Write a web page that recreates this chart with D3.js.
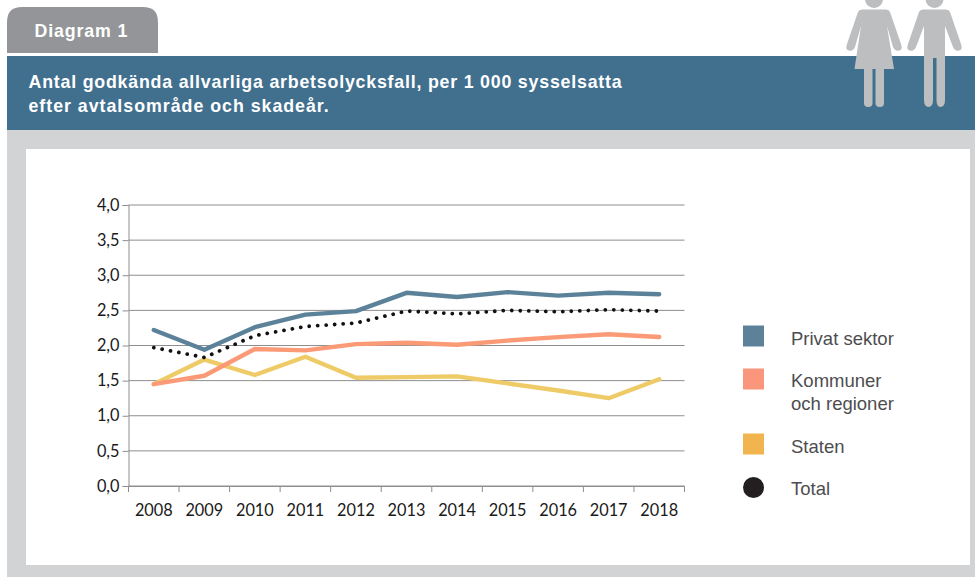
<!DOCTYPE html>
<html><head><meta charset="utf-8">
<script src="https://cdn.jsdelivr.net/npm/d3@7"></script>
<style>html,body{margin:0;padding:0;background:#fff}svg{display:block}</style></head>
<body><svg id="c" width="975" height="577"></svg>
<script>
const years = ["2008","2009","2010","2011","2012","2013","2014","2015","2016","2017","2018"];
const privat = [2.22,1.94,2.26,2.44,2.49,2.75,2.69,2.76,2.71,2.75,2.73];
const kommuner = [1.45,1.57,1.95,1.93,2.02,2.04,2.01,2.07,2.12,2.16,2.12];
const staten = [1.45,1.80,1.58,1.84,1.54,1.55,1.56,1.46,1.36,1.25,1.52];
const total = [1.97,1.83,2.14,2.27,2.32,2.49,2.45,2.50,2.48,2.51,2.49];
const yTicks = [0,0.5,1,1.5,2,2.5,3,3.5,4];

const svg = d3.select("#c");
const sans = "'Liberation Sans',Arial,sans-serif";

// Panel
svg.append("rect").attr("x",7).attr("y",130).attr("width",968).attr("height",447).attr("fill","#d1d3d4");
svg.append("rect").attr("x",26).attr("y",149).attr("width",944).attr("height",416).attr("fill","#fff");
svg.append("rect").attr("x",7).attr("y",56).attr("width",968).attr("height",74).attr("fill","#41708f");
svg.append("path").attr("d","M7,53V22Q7,7 22,7H143Q158,7 158,22V53Z").attr("fill","#939598");
svg.append("text").attr("x",34.5).attr("y",36.5).attr("fill","#fff").attr("font-family",sans).attr("font-weight",700).attr("font-size",17.8).attr("letter-spacing",0.85).text("Diagram 1");
const title = svg.append("text").attr("fill","#fff").attr("font-family",sans).attr("font-weight",700).attr("font-size",17.8);
title.append("tspan").attr("x",28.5).attr("y",87.5).attr("letter-spacing",0.79).text("Antal godkända allvarliga arbetsolycksfall, per 1 000 sysselsatta");
title.append("tspan").attr("x",28.5).attr("y",111.5).attr("letter-spacing",0.98).text("efter avtalsområde och skadeår.");

// People pictograms
const fig = svg.append("g").attr("fill","#bcbec0");
fig.append("circle").attr("cx",874).attr("cy",-1).attr("r",9);
fig.append("path").attr("d","M862,9.5H886Q889,9.5 890,12L901,44Q903,50 899,50.5Q895,51.5 893,47L887,26L894,69H854.5L861,26L855,47Q853,51.5 849,50.5Q845,50 847,44L858,12Q859,9.5 862,9.5Z");
fig.append("rect").attr("x",864).attr("y",66).attr("width",8.5).attr("height",41).attr("rx",4);
fig.append("rect").attr("x",875.5).attr("y",66).attr("width",8.5).attr("height",41).attr("rx",4);
fig.append("circle").attr("cx",934.5).attr("cy",-1).attr("r",9);
fig.append("path").attr("d","M923,9.5H946Q949,9.5 950,12L961,44Q963,50 959,50.5Q955,51.5 953,47L945,26V100Q945,107 940.5,107Q936.5,107 936.5,100V58H933V100Q933,107 928.5,107Q924,107 924,100V26L916,47Q914,51.5 910,50.5Q906,50 908,44L919,12Q920,9.5 923,9.5Z");

// Scales
const x = d3.scaleBand().domain(years).range([128.5,684.5]);
const y = d3.scaleLinear().domain([0,4]).range([486,205]);

// Grid
svg.append("g").selectAll("line").data(yTicks).join("line")
  .attr("x1",128.5).attr("x2",684.5).attr("y1",d=>y(d)).attr("y2",d=>y(d))
  .attr("stroke","#8e8e8e").attr("stroke-width",1);

// Axes
const fmt = d=>d.toFixed(1).replace(".",",");
const gy = svg.append("g").attr("transform","translate(128.5,0)")
  .call(d3.axisLeft(y).tickValues(yTicks).tickFormat(fmt).tickSize(6).tickPadding(3));
const gx = svg.append("g").attr("transform","translate(0,486)")
  .call(d3.axisBottom(x).tickSize(0).tickPadding(18));
gx.selectAll(".tick line").remove();
const edges = d3.range(years.length+1).map(i=>x.range()[0]+i*x.step());
gx.selectAll("line.edge").data(edges).join("line").attr("class","edge")
  .attr("x1",d=>d).attr("x2",d=>d).attr("y1",0).attr("y2",6).attr("stroke","#8e8e8e");
[gx,gy].forEach(g=>{
  g.selectAll(".domain").attr("stroke","#8e8e8e");
  g.selectAll(".tick line").attr("stroke","#8e8e8e");
  g.selectAll("text").attr("font-family","Lato,Carlito,sans-serif").attr("font-size",16.3).attr("fill","#1a1a1a");
});

// Lines
const line = d3.line().x((d,i)=>x(years[i])+x.bandwidth()/2).y(d=>y(d));
const addLine = (vals,color,w,extra)=>{
  const p = svg.append("path").datum(vals).attr("d",line).attr("fill","none").attr("stroke",color)
    .attr("stroke-width",w).attr("stroke-linejoin","round").attr("stroke-linecap","round");
  if(extra) extra(p);
};
addLine(staten,"#eecb66",4.4);
addLine(kommuner,"#fb9a76",4.4);
addLine(privat,"#5b8299",4.4);
addLine(total,"#111",3.8,p=>p.attr("stroke-dasharray","0.01 8.5"));

// Legend
const legendItems = [
  {lines:["Privat sektor"],color:"#5d8198",yy:338,dot:false},
  {lines:["Kommuner","och regioner"],color:"#f9967b",yy:380,dot:false},
  {lines:["Staten"],color:"#f1b44f",yy:446,dot:false},
  {lines:["Total"],color:"#231f20",yy:488,dot:true}
];
const lg = svg.append("g").selectAll("g").data(legendItems).join("g");
lg.filter(d=>!d.dot).append("rect").attr("x",743).attr("y",d=>d.yy-12.5+(d.lines.length>1?1:0)).attr("width",21).attr("height",21).attr("fill",d=>d.color);
lg.filter(d=>d.dot).append("circle").attr("cx",753.5).attr("cy",d=>d.yy-0.5).attr("r",10.5).attr("fill",d=>d.color);
lg.each(function(d){
  const t = d3.select(this).append("text").attr("font-family",sans).attr("font-size",18.5).attr("fill","#4d4d4f");
  d.lines.forEach((s,i)=>t.append("tspan").attr("x",791).attr("y",d.yy+6.5+i*23).text(s));
});
</script></body></html>
